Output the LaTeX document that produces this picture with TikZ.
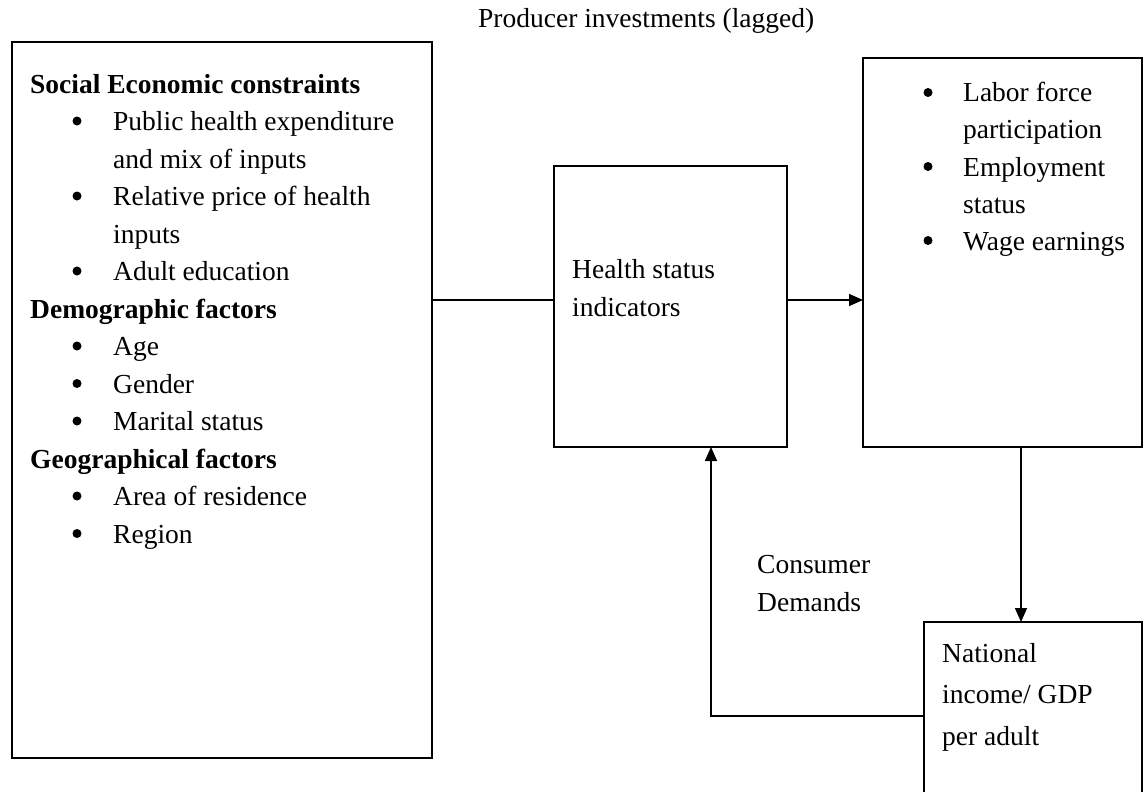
\documentclass[tikz,border=0pt]{standalone}
\usepackage{fontspec}
\setmainfont{Liberation Serif}
\usetikzlibrary{arrows.meta}
\newcommand{\fsz}{\fontsize{27.5}{33}\selectfont}
\begin{document}
\begin{tikzpicture}[x=1pt,y=-1pt,
  box/.style={draw,line width=1.6pt,inner sep=0pt,outer sep=0pt,anchor=north west},
  txt/.style={anchor=base west,inner sep=0pt,font=\fsz},
  hd/.style={anchor=base west,inner sep=0pt,font=\fsz\bfseries},
  bul/.style={circle,fill=black,inner sep=0pt,minimum size=9pt,yshift=9.5pt},
  conn/.style={line width=1.6pt},
  arr/.style={conn,-{Triangle[length=14pt,width=12pt]}}]
\clip (0,0) rectangle (1144,792);
\fill[white] (0,0) rectangle (1144,792);
% boxes
\node[box,minimum width=420pt,minimum height=716pt] (L) at (12,42) {};
\node[box,minimum width=233pt,minimum height=281pt] (M) at (554,166) {};
\node[box,minimum width=279pt,minimum height=389pt] (R) at (863,58) {};
\node[box,minimum width=218pt,minimum height=188pt] (B) at (924,622) {};
% title
\node[txt] (prod) at (478,28) {Producer investments (lagged)};
% left box text
\node[hd] (h1) at (30,93) {Social Economic constraints};
\node[bul] (b1) at (77,130.5) {};
\node[txt] (t1) at (113,130.5) {Public health expenditure};
\node[txt] (t1b) at (113,168) {and mix of inputs};
\node[bul] (b2) at (77,205.5) {};
\node[txt] (t2) at (113,205.5) {Relative price of health};
\node[txt] (t2b) at (113,243) {inputs};
\node[bul] (b3) at (77,280.5) {};
\node[txt] (t3) at (113,280.5) {Adult education};
\node[hd] (h2) at (30,318) {Demographic factors};
\node[bul] (b4) at (77,355.5) {};
\node[txt] (t4) at (113,355.5) {Age};
\node[bul] (b5) at (77,393) {};
\node[txt] (t5) at (113,393) {Gender};
\node[bul] (b6) at (77,430.5) {};
\node[txt] (t6) at (113,430.5) {Marital status};
\node[hd] (h3) at (30,468) {Geographical factors};
\node[bul] (b7) at (77,505.5) {};
\node[txt] (t7) at (113,505.5) {Area of residence};
\node[bul] (b8) at (77,543) {};
\node[txt] (t8) at (113,543) {Region};
% middle box text
\node[txt] (m1) at (572,278) {Health status};
\node[txt] (m2) at (572,316) {indicators};
% right box text
\node[bul] (r1) at (928,102) {};
\node[txt] (rt1) at (963,102) {Labor force};
\node[txt] (rt1b) at (963,139) {participation};
\node[bul] (r2) at (928,176) {};
\node[txt] (rt2) at (963,176) {Employment};
\node[txt] (rt2b) at (963,213) {status};
\node[bul] (r3) at (928,250) {};
\node[txt] (rt3) at (963,250) {Wage earnings};
% bottom box text
\node[txt] (n1) at (942,662) {National};
\node[txt] (n2) at (942,703) {income/ GDP};
\node[txt] (n3) at (942,745) {per adult};
% consumer demands label
\node[txt] (c1) at (757,573) {Consumer};
\node[txt] (c2) at (757,611) {Demands};
% connectors
\coordinate (hy) at (0,300);
\coordinate (vx) at (1021,0);
\coordinate (fx) at (711,0);
\draw[conn] (hy -| L.east) -- (hy -| M.west);
\draw[arr] (hy -| M.east) -- (hy -| R.west);
\draw[arr] (vx |- R.south) -- (vx |- B.north);
\draw[arr] (B.west) -- (B.west -| fx) -- (fx |- M.south);
\end{tikzpicture}
\end{document}
